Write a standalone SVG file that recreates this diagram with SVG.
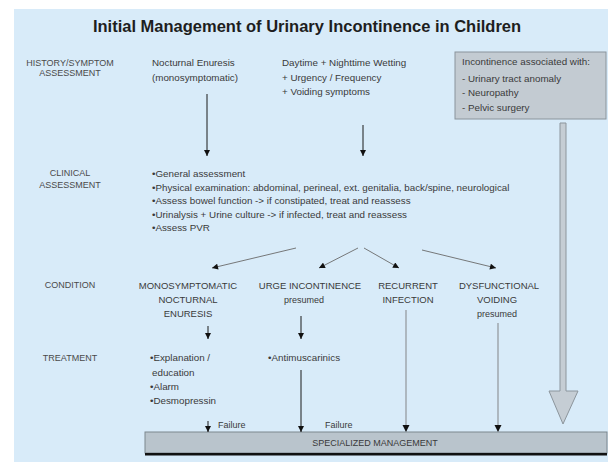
<svg xmlns="http://www.w3.org/2000/svg" width="608" height="465" viewBox="0 0 608 465">
<style>
text{font-family:"Liberation Sans",Arial,sans-serif;fill:#3a3a3a}
.title{font-size:16.5px;font-weight:bold;fill:#1e1e1e}
.lab{font-size:9px;text-anchor:middle;fill:#4a4a4a}
.body{font-size:9.8px}
.cond{font-size:9.5px;text-anchor:middle}
.small{font-size:9px}
.mid{text-anchor:middle}
.dark{stroke:#1a1a1a;stroke-width:1;fill:none}
.gray{stroke:#a3abb2;stroke-width:1.6;fill:none}
.div{stroke:#6a6a6a;stroke-width:0.9;fill:none}
</style>
<defs>
<marker id="ah" viewBox="0 0 10 10" refX="10" refY="5" markerWidth="7" markerHeight="6" orient="auto" markerUnits="userSpaceOnUse">
<path d="M0,0 L10,5 L0,10 z" fill="#111"/>
</marker>
</defs>
<rect x="14" y="9" width="594" height="453" fill="#d8ebf9"/>
<text class="title mid" x="307" y="32">Initial Management of Urinary Incontinence in Children</text>

<g id="row-labels">
<text class="lab" x="70" y="66">HISTORY/SYMPTOM</text>
<text class="lab" x="70" y="76">ASSESSMENT</text>
<text class="lab" x="70" y="176">CLINICAL</text>
<text class="lab" x="70" y="188">ASSESSMENT</text>
<text class="lab" x="70" y="288">CONDITION</text>
<text class="lab" x="70" y="361">TREATMENT</text>
</g>

<g id="nocturnal-enuresis">
<text class="body" x="152" y="66">Nocturnal Enuresis</text>
<text class="body" x="152" y="81">(monosymptomatic)</text>
</g>

<g id="daytime-wetting">
<text class="body" x="282" y="66">Daytime + Nighttime Wetting</text>
<text class="body" x="282" y="81">+ Urgency / Frequency</text>
<text class="body" x="282" y="95">+ Voiding symptoms</text>
</g>

<g id="associated">
<rect x="455" y="52" width="151" height="67" fill="#c3cbd2" stroke="#8a949c" stroke-width="1"/>
<text class="body" x="462" y="65">Incontinence associated with:</text>
<text class="body" x="462" y="82">- Urinary tract anomaly</text>
<text class="body" x="462" y="96">- Neuropathy</text>
<text class="body" x="462" y="111">- Pelvic surgery</text>
</g>

<g id="clinical-assessment">
<text class="body" x="152" y="177">•General assessment</text>
<text class="body" x="152" y="190.5">•Physical examination: abdominal, perineal, ext. genitalia, back/spine, neurological</text>
<text class="body" x="152" y="204">•Assess bowel function -&gt; if constipated, treat and reassess</text>
<text class="body" x="152" y="217.5">•Urinalysis + Urine culture -&gt; if infected, treat and reassess</text>
<text class="body" x="152" y="231">•Assess PVR</text>
</g>

<g id="cond-mne">
<text class="cond" x="188" y="289">MONOSYMPTOMATIC</text>
<text class="cond" x="188" y="303">NOCTURNAL</text>
<text class="cond" x="188" y="317">ENURESIS</text>
</g>
<g id="cond-urge">
<text class="cond" x="310" y="289">URGE INCONTINENCE</text>
<text class="small mid" x="304" y="303">presumed</text>
</g>
<g id="cond-infection">
<text class="cond" x="408" y="289">RECURRENT</text>
<text class="cond" x="408" y="303">INFECTION</text>
</g>
<g id="cond-dysfunctional">
<text class="cond" x="499" y="289">DYSFUNCTIONAL</text>
<text class="cond" x="497" y="303">VOIDING</text>
<text class="small mid" x="497" y="317">presumed</text>
</g>

<g id="treat-mne">
<text class="body" x="150" y="361">•Explanation /</text>
<text class="body" x="152" y="376">education</text>
<text class="body" x="150" y="390">•Alarm</text>
<text class="body" x="150" y="404">•Desmopressin</text>
</g>
<g id="treat-urge">
<text class="body" x="268" y="361">•Antimuscarinics</text>
</g>

<g id="specialized">
<rect x="145" y="432" width="462" height="21" fill="#b9c4cc" stroke="#7d878e" stroke-width="1"/>
<rect x="145" y="453" width="462" height="2.5" fill="#111"/>
<text class="small mid" x="375" y="446">SPECIALIZED MANAGEMENT</text>
</g>

<g id="connectors">
<line class="dark" x1="207" y1="94" x2="207" y2="156" marker-end="url(#ah)"/>
<line class="dark" x1="363" y1="125" x2="363" y2="156" marker-end="url(#ah)"/>
<polygon points="560,123 566,123 566,391 578,391 563,424 549,391 560,391" fill="#c5cdd4" stroke="#8c959c" stroke-width="1"/>
<line class="div" x1="296" y1="248" x2="212" y2="268" marker-end="url(#ah)"/>
<line class="div" x1="358" y1="248" x2="319" y2="268" marker-end="url(#ah)"/>
<line class="div" x1="364" y1="248" x2="399" y2="268" marker-end="url(#ah)"/>
<line class="div" x1="422" y1="250" x2="496" y2="268" marker-end="url(#ah)"/>
<line class="dark" x1="208" y1="326" x2="208" y2="339" marker-end="url(#ah)"/>
<line class="dark" x1="301" y1="316" x2="301" y2="339" marker-end="url(#ah)"/>
<line class="gray" x1="406" y1="310" x2="406" y2="431"/>
<path d="M402.5,425 L409.5,425 L406,432 z" fill="#111"/>
<line class="gray" x1="498" y1="323" x2="498" y2="431"/>
<path d="M494.5,425 L501.5,425 L498,432 z" fill="#111"/>
<line class="dark" x1="301" y1="370" x2="301" y2="432" marker-end="url(#ah)"/>
<line class="dark" x1="208" y1="421" x2="208" y2="432" marker-end="url(#ah)"/>
<text class="small" x="218" y="428">Failure</text>
<text class="small" x="325" y="428">Failure</text>
</g>
</svg>
